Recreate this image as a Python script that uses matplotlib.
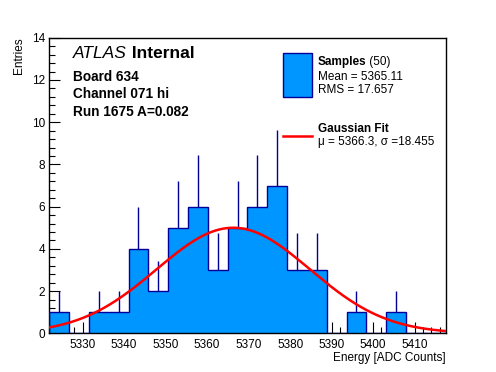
import numpy as np
import matplotlib
matplotlib.use("Agg")
import matplotlib.pyplot as plt
from matplotlib.patches import Rectangle
from matplotlib.lines import Line2D
from matplotlib.ticker import MultipleLocator

plt.rcParams['font.family'] = ['Liberation Sans', 'DejaVu Sans']

# histogram data (20 bins)
hist_min = 5322.0
hist_max = 5417.45
counts = [1, 0, 1, 1, 4, 2, 5, 6, 3, 5, 6, 7, 3, 3, 0, 1, 0, 1, 0, 0]

# gaussian fit
fit_amp = 5.0
fit_mu = 5366.3
fit_sigma = 18.455

info_lines = ["Board 634", "Channel 071 hi", "Run 1675 A=0.082"]
sample_label = ["Mean = 5365.11", "RMS = 17.657"]

fill_col = "#0096ff"
edge_col = "#000099"

fig = plt.figure(figsize=(4.96, 3.72), dpi=100)
ax = fig.add_axes([0.0994, 0.104, 0.799, 0.7946])

counts = np.array(counts, dtype=float)
edges = np.linspace(hist_min, hist_max, len(counts) + 1)
centers = 0.5 * (edges[:-1] + edges[1:])
width = edges[1] - edges[0]

# error bars (lower half hidden under the fill, like ROOT)
nz = counts > 0
err = np.sqrt(counts)
ax.vlines(centers[nz], (counts - err)[nz], (counts + err)[nz], color=edge_col, lw=1, zorder=1)

ax.bar(edges[:-1], counts, width=width, align='edge', color=fill_col, lw=0, zorder=2)
ax.stairs(counts, edges, color=edge_col, lw=1, zorder=3)

xf = np.linspace(hist_min, hist_max, 300)
yf = fit_amp * np.exp(-0.5 * ((xf - fit_mu) / fit_sigma) ** 2)
ax.plot(xf, yf, color='red', lw=1.8, zorder=4)

ax.set_xlim(hist_min, hist_max)
ax.set_ylim(0, 14)
ax.xaxis.set_major_locator(MultipleLocator(10))
ax.xaxis.set_minor_locator(MultipleLocator(2))
ax.yaxis.set_major_locator(MultipleLocator(2))
ax.yaxis.set_minor_locator(MultipleLocator(0.4))
ax.tick_params(which='both', direction='in', top=False, right=False, labelsize=8.5, width=0.8)
ax.tick_params(which='major', axis='y', length=8, pad=3)
ax.tick_params(which='minor', axis='y', length=4)
ax.tick_params(which='major', axis='x', length=8, pad=4)
ax.tick_params(which='minor', axis='x', length=4)
for s in ax.spines.values():
    s.set_linewidth(1)

ax.set_xlabel("Energy [ADC Counts]", fontsize=8.5, loc='right', labelpad=1)
ax.set_ylabel("Entries", fontsize=8.5, loc='top', labelpad=5)

# ATLAS label and run info
atl = ax.text(0.06, 0.945, "ATLAS", transform=ax.transAxes, fontsize=12.5, style='italic', va='center')
ax.annotate(" Internal", xy=(1, 0), xycoords=atl, fontsize=12.5, weight='bold', va='bottom')
for i, t in enumerate(info_lines):
    ax.text(0.06, 0.868 - i * 0.0595, t, transform=ax.transAxes, fontsize=9.8, weight='bold', va='center')

# legend drawn by hand
ax.add_patch(Rectangle((0.59, 0.801), 0.072, 0.1465, transform=ax.transAxes,
                       facecolor=fill_col, edgecolor=edge_col, lw=1, zorder=5))
smp = ax.text(0.677, 0.919, "Samples", transform=ax.transAxes, fontsize=8.5, weight='bold', va='center')
ax.annotate(" (50)", xy=(1, 0), xycoords=smp, fontsize=8.5, va='bottom')
for i, t in enumerate(sample_label):
    ax.text(0.677, 0.868 - i * 0.045, t, transform=ax.transAxes, fontsize=8.5, va='center')
ax.add_line(Line2D([0.59, 0.662], [0.667, 0.667], transform=ax.transAxes, color='red', lw=1.8))
ax.text(0.677, 0.69, "Gaussian Fit", transform=ax.transAxes, fontsize=8.5, weight='bold', va='center')
ax.text(0.677, 0.648, "\u03bc = %.1f, \u03c3 =%.3f" % (fit_mu, fit_sigma), transform=ax.transAxes,
        fontsize=8.5, va='center')

fig.savefig("out.png", dpi=100)
